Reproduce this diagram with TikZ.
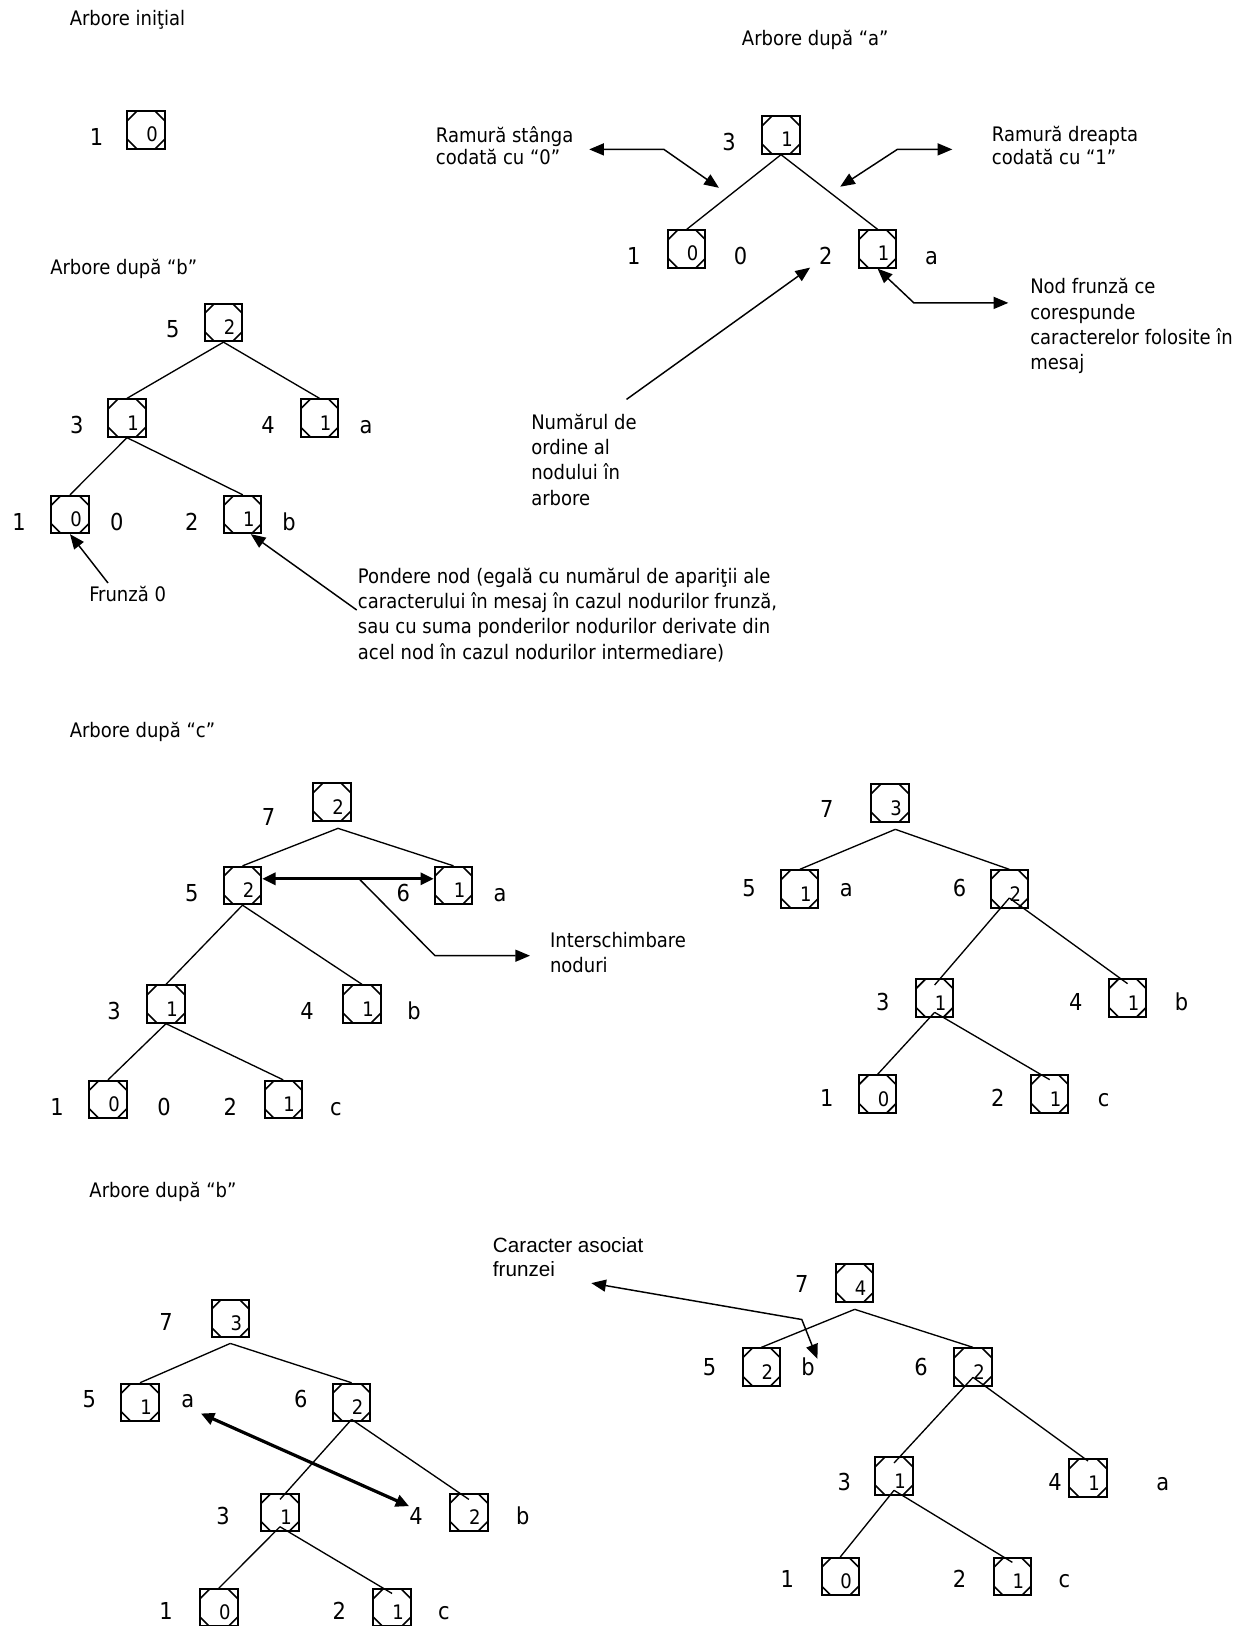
\documentclass[tikz,border=0pt]{standalone}
\usepackage{fontspec}
\setmainfont{DejaVu Sans Condensed}
\newfontfamily\arialfont{Liberation Sans}
\usetikzlibrary{calc,arrows.meta}
\tikzset{
	hbox/.style={draw, line width=1.5pt, minimum width=28pt, minimum height=28pt, inner sep=0pt,
		text height=18pt, text depth=0pt, font=\fontsize{15}{15}\selectfont,
		execute at begin node={\hskip9pt},
		path picture={\foreach \a/\sx/\sy in {north west/1/-1, north east/-1/-1, south west/1/1, south east/-1/1}
			\draw[line width=1.2pt] ([yshift=\sy*7pt]path picture bounding box.\a) -- ([xshift=\sx*7pt]path picture bounding box.\a);}},
	ord/.style={anchor=base, inner sep=0pt, font=\fontsize{17.5}{17.5}\selectfont},
	ttl/.style={anchor=base west, inner sep=0pt, font=\fontsize{15}{19}\selectfont},
	note/.style={anchor=north west, align=left, inner sep=0pt, font=\fontsize{15}{19}\selectfont},
	edge/.style={line width=1pt},
	pointer/.style={line width=1.1pt, -{Triangle[length=11pt,width=9pt]}},
	bipointer/.style={line width=1.1pt, {Triangle[length=11pt,width=9pt]}-{Triangle[length=11pt,width=9pt]}},
	swap/.style={line width=2.4pt, {Triangle[length=10pt,width=9pt]}-{Triangle[length=10pt,width=9pt]}},
}

\begin{document}
\begin{tikzpicture}[x=0.75pt, y=-0.75pt]
	\useasboundingbox (0,0) rectangle (1250,1626);
	%%%%% START %%%%%
	% arbore initial
	\node[ttl] (t0t) at (69.5,25.4) {Arbore iniţial};
	\node[hbox] (t0n1) at (146,130) {0};
	\node[ord] (t0n1o) at (96.5,145.5) {1};
	
	% arbore dupa a
	\node[ttl] (tat) at (741.7,46) {Arbore după “a”};
	\node[hbox] (ta3) at (781,135) {1};
	\node[ord] (ta3o) at (729,150.5) {3};
	\node[hbox] (ta1) at (686.7,249) {0};
	\node[ord] (ta1o) at (633.8,264.5) {1};
	\node[ord] (ta1c) at (740.6,264.5) {0};
	\node[hbox] (ta2) at (877.6,249) {1};
	\node[ord] (ta2o) at (825.7,264.5) {2};
	\node[ord] (ta2c) at (931.5,264.5) {a};
	\draw[edge] (ta3.south) -- (ta1.north);
	\draw[edge] (ta3.south) -- (ta2.north);
	
	\node[note, font=\fontsize{15}{17}\selectfont] (stg) at (435.7,125.8) {Ramură stânga\\codată cu “0”};
	\node[note, font=\fontsize{15}{17}\selectfont] (drp) at (991.7,125.8) {Ramură dreapta\\codată cu “1”};
	\coordinate (lk) at (663.9,149.4);
	\coordinate (lt1) at (589.2,149.4);
	\coordinate (lt2) at (718.9,187.8);
	\draw[bipointer] (lt1) -- (lk) -- (lt2);
	\coordinate (rk) at (897.3,149.4);
	\coordinate (rt1) at (952.3,149.4);
	\coordinate (rt2) at (840.2,186.7);
	\draw[bipointer] (rt1) -- (rk) -- (rt2);
	
	\node[note] (frz) at (1030,278.3) {Nod frunză ce\\corespunde\\caracterelor folosite în\\mesaj};
	\coordinate (nk) at (913.9,302.9);
	\coordinate (nt) at (1008.3,302.9);
	\draw[bipointer] (ta2.south) -- (nk) -- (nt);
	
	\node[note] (nrd) at (531,413.5) {Numărul de\\ordine al\\nodului în\\arbore};
	\coordinate (ns) at (626.5,399.4);
	\coordinate (ntip) at (810.1,267.6);
	\draw[pointer] (ns) -- (ntip);
	
	% arbore dupa b
	\node[ttl] (tbt) at (50,274.7) {Arbore după “b”};
	\node[hbox] (tb5) at (223.5,322.5) {2};
	\node[ord] (tb5o) at (172.7,338) {5};
	\node[hbox] (tb3) at (127,418) {1};
	\node[ord] (tb3o) at (76.7,433.5) {3};
	\node[hbox] (tb4) at (319.5,418) {1};
	\node[ord] (tb4o) at (268,433.5) {4};
	\node[ord] (tb4c) at (366,433.5) {a};
	\node[hbox] (tb1) at (70,514.5) {0};
	\node[ord] (tb1o) at (19,530) {1};
	\node[ord] (tb1c) at (116.7,530) {0};
	\node[hbox] (tb2) at (242.8,514.5) {1};
	\node[ord] (tb2o) at (191.7,530) {2};
	\node[ord] (tb2c) at (289,530) {b};
	\draw[edge] (tb5.south) -- (tb3.north);
	\draw[edge] (tb5.south) -- (tb4.north);
	\draw[edge] (tb3.south) -- (tb1.north);
	\draw[edge] (tb3.south) -- (tb2.north);
	
	\node[ttl] (fr0) at (89,601.7) {Frunză 0};
	\coordinate (frs) at (108,583);
	\draw[pointer] (frs) -- (tb1.south);
	
	\node[note] (pnd) at (357.7,567.7) {Pondere nod (egală cu numărul de apariţii ale\\caracterului în mesaj în cazul nodurilor frunză,\\sau cu suma ponderilor nodurilor derivate din\\acel nod în cazul nodurilor intermediare)};
	\coordinate (ps) at (356.7,610);
	\draw[pointer] (ps) -- ([xshift=6pt]tb2.south);
	
	% arbore dupa c
	\node[ttl] (tct) at (69.5,737) {Arbore după “c”};
	\node[hbox] (tc7) at (332,802) {2};
	\node[ord] (tc7o) at (268.5,825) {7};
	\node[hbox] (tc5) at (242.5,885.5) {2};
	\node[ord] (tc5o) at (191.8,901.5) {5};
	\node[hbox] (tc6) at (453.5,885.5) {1};
	\node[ord] (tc6o) at (403.3,901.5) {6};
	\node[ord] (tc6c) at (500,901.5) {a};
	\node[hbox] (tc3) at (166,1004) {1};
	\node[ord] (tc3o) at (114,1019.5) {3};
	\node[hbox] (tc4) at (362,1004) {1};
	\node[ord] (tc4o) at (307,1019.5) {4};
	\node[ord] (tc4c) at (414,1019.5) {b};
	\node[hbox] (tc1) at (108,1099.5) {0};
	\node[ord] (tc1o) at (57,1115) {1};
	\node[ord] (tc1c) at (164,1115) {0};
	\node[hbox] (tc2) at (283.2,1099.5) {1};
	\node[ord] (tc2o) at (230.3,1115) {2};
	\node[ord] (tc2c) at (336,1115) {c};
	\draw[edge] ([xshift=4.5pt,yshift=-5pt]tc7.south) -- (tc5.north);
	\draw[edge] ([xshift=4.5pt,yshift=-5pt]tc7.south) -- (tc6.north);
	\draw[edge] (tc5.south) -- (tc3.north);
	\draw[edge] (tc5.south) -- (tc4.north);
	\draw[edge] (tc3.south) -- (tc1.north);
	\draw[edge] (tc3.south) -- (tc2.north);
	\draw[swap] ([yshift=5pt]tc5.east) -- ([yshift=5pt]tc6.west);
	
	\node[note] (isb) at (549.8,931.8) {Interschimbare\\noduri};
	\coordinate (is) at (359.3,879);
	\coordinate (ik) at (435,955.7);
	\coordinate (it) at (530,955.7);
	\draw[pointer] (is) -- (ik) -- (it);
	
	% dupa interschimbare
	\node[hbox] (td7) at (890,803) {3};
	\node[ord] (td7o) at (826.7,817.5) {7};
	\node[hbox] (td5) at (799.8,889) {1};
	\node[ord] (td5o) at (749,896.5) {5};
	\node[ord] (td5c) at (846.4,896.5) {a};
	\node[hbox] (td6) at (1009.3,889) {2};
	\node[ord] (td6o) at (959.5,896.5) {6};
	\node[hbox] (td3) at (934.6,998) {1};
	\node[ord] (td3o) at (882.8,1010.5) {3};
	\node[hbox] (td4) at (1127.6,998) {1};
	\node[ord] (td4o) at (1075.7,1010.5) {4};
	\node[ord] (td4c) at (1181.5,1010.5) {b};
	\node[hbox] (td1) at (877.6,1094) {0};
	\node[ord] (td1o) at (826.7,1106) {1};
	\node[hbox] (td2) at (1049.7,1094) {1};
	\node[ord] (td2o) at (997.9,1106) {2};
	\node[ord] (td2c) at (1103.7,1106) {c};
	\draw[edge] ([xshift=4pt,yshift=-5pt]td7.south) -- (td5.north);
	\draw[edge] ([xshift=4pt,yshift=-5pt]td7.south) -- (td6.north);
	\draw[edge] ([yshift=8pt]td6.south) -- ([yshift=-5pt]td3.north);
	\draw[edge] ([yshift=8pt]td6.south) -- ([yshift=-4pt]td4.north);
	\draw[edge] ([yshift=4pt]td3.south) -- (td1.north);
	\draw[edge] ([yshift=4pt]td3.south) -- ([yshift=-4pt]td2.north);
	
	% arbore dupa b (al doilea)
	\node[ttl] (tet) at (89.2,1197.5) {Arbore după “b”};
	\node[hbox] (te7) at (230.3,1318.4) {3};
	\node[ord] (te7o) at (166,1330) {7};
	\node[hbox] (te5) at (140,1402.4) {1};
	\node[ord] (te5o) at (89.2,1407.8) {5};
	\node[ord] (te5c) at (187.8,1407.8) {a};
	\node[hbox] (te6) at (351.6,1402.4) {2};
	\node[ord] (te6o) at (300.8,1407.8) {6};
	\node[hbox] (te3) at (280,1512.4) {1};
	\node[ord] (te3o) at (223,1524) {3};
	\node[hbox] (te4) at (468.9,1512.4) {2};
	\node[ord] (te4o) at (416,1524) {4};
	\node[ord] (te4c) at (522.8,1524) {b};
	\node[hbox] (te1) at (218.9,1607.8) {0};
	\node[ord] (te1o) at (166,1619.5) {1};
	\node[hbox] (te2) at (392.1,1607.8) {1};
	\node[ord] (te2o) at (339.2,1619.5) {2};
	\node[ord] (te2c) at (444,1619.5) {c};
	\draw[edge] ([yshift=-4pt]te7.south) -- (te5.north);
	\draw[edge] ([yshift=-4pt]te7.south) -- (te6.north);
	\draw[edge] ([yshift=2pt]te6.south) -- ([yshift=-5pt]te3.north);
	\draw[edge] ([yshift=2pt]te6.south) -- ([yshift=-5pt]te4.north);
	\draw[edge] ([yshift=4pt]te3.south) -- (te1.north);
	\draw[edge] ([yshift=4pt]te3.south) -- ([yshift=-4pt]te2.north);
	\draw[swap] ([xshift=4.8pt,yshift=-3.8pt]te5c.south east) -- ([yshift=7pt]te4o.west);
	
	% arbore final
	\node[hbox] (tf7) at (854.7,1283) {4};
	\node[ord] (tf7o) at (801.8,1292.5) {7};
	\node[hbox] (tf5) at (761.4,1367) {2};
	\node[ord] (tf5o) at (709.5,1375.5) {5};
	\node[ord] (tf5c) at (808,1375.5) {b};
	\node[hbox] (tf6) at (973,1367) {2};
	\node[ord] (tf6o) at (921,1375.5) {6};
	\node[hbox] (tf3) at (894,1476) {1};
	\node[ord] (tf3o) at (844.4,1490.5) {3};
	\node[hbox] (tf4) at (1088,1478) {1};
	\node[ord] (tf4o) at (1055,1490.5) {4};
	\node[ord] (tf4c) at (1162.8,1490.5) {a};
	\node[hbox] (tf1) at (840.2,1576.7) {0};
	\node[ord] (tf1o) at (787.3,1587.3) {1};
	\node[hbox] (tf2) at (1012.4,1576.7) {1};
	\node[ord] (tf2o) at (959.5,1587.3) {2};
	\node[ord] (tf2c) at (1064.3,1587.3) {c};
	\draw[edge] ([yshift=-5pt]tf7.south) -- (tf5.north);
	\draw[edge] ([yshift=-5pt]tf7.south) -- (tf6.north);
	\draw[edge] ([yshift=7pt]tf6.south) -- ([yshift=-5pt]tf3.north);
	\draw[edge] ([yshift=7pt]tf6.south) -- ([yshift=-2pt]tf4.north);
	\draw[edge] ([yshift=4pt]tf3.south) -- (tf1.north);
	\draw[edge] ([yshift=4pt]tf3.south) -- ([yshift=-4pt]tf2.north);
	
	\node[note, font=\arialfont\fontsize{15.5}{18}\selectfont] (cas) at (492.7,1237.5) {Caracter asociat\\frunzei};
	\coordinate (ck) at (801.8,1319.5);
	\coordinate (ct1) at (591.3,1283.1);
	\coordinate (ct2) at (817.4,1358.9);
	\draw[bipointer] (ct1) -- (ck) -- (ct2);
	%%%%% END %%%%%
\end{tikzpicture}
\end{document}
